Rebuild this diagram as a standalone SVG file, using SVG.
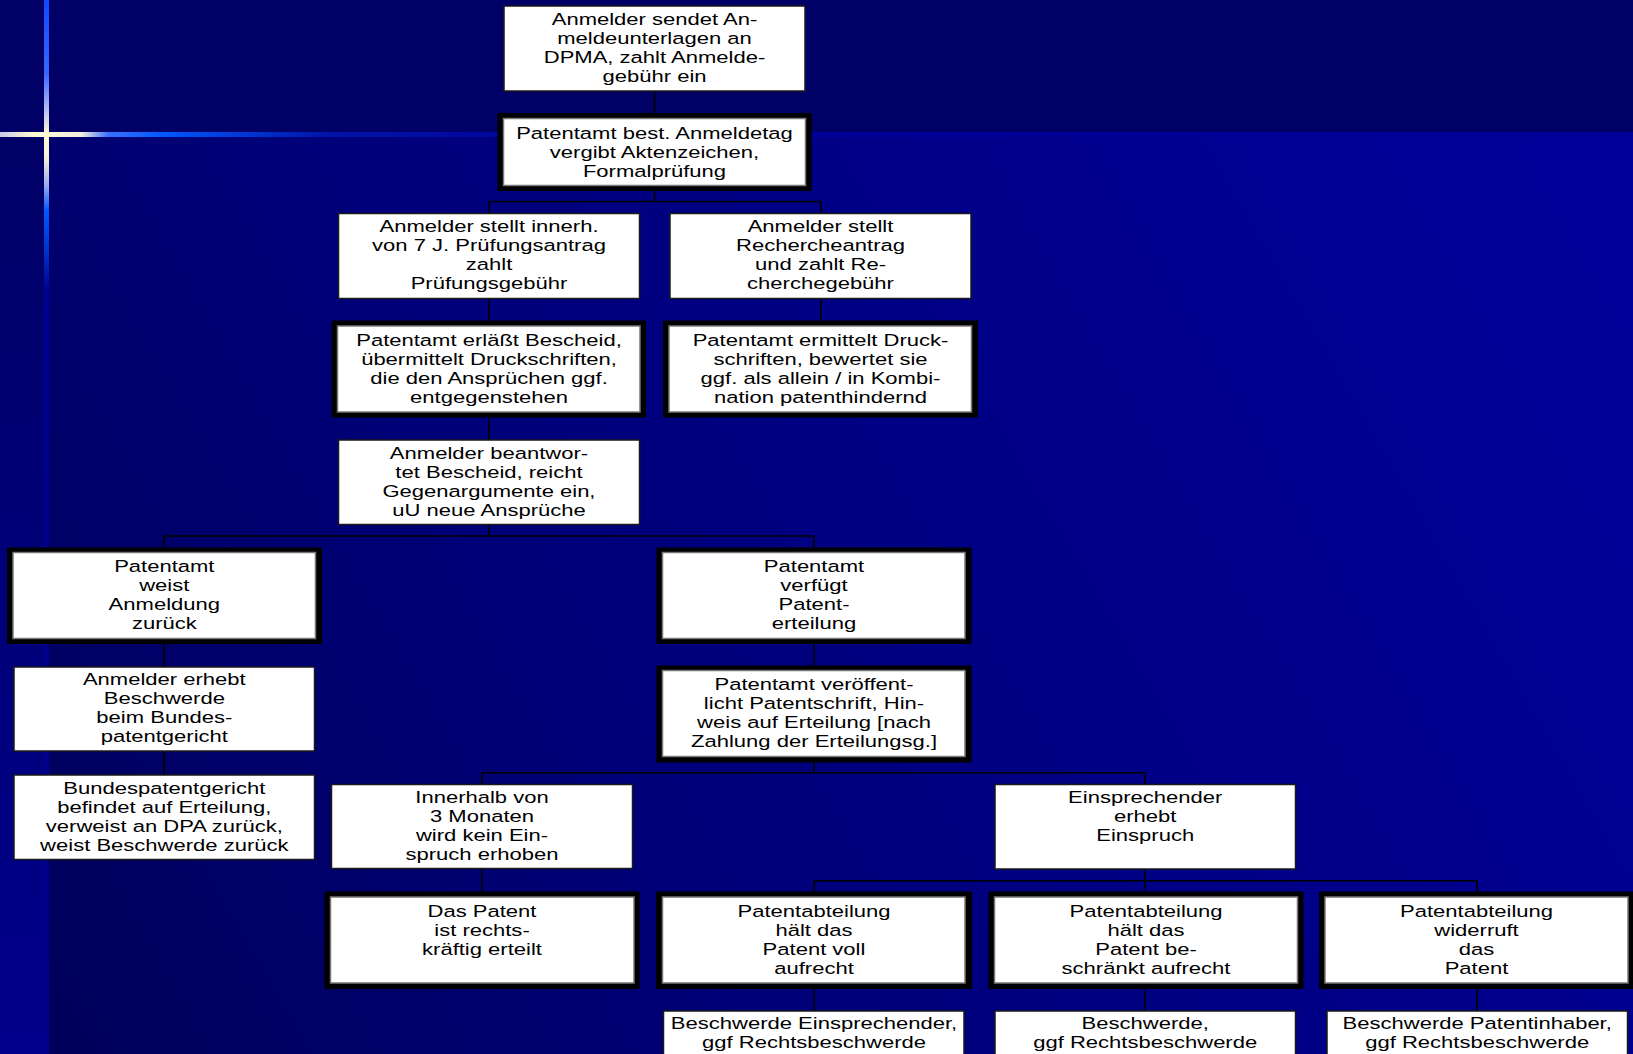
<svg xmlns="http://www.w3.org/2000/svg" width="1633" height="1054" viewBox="0 0 1633 1054">
<defs>
<linearGradient id="gMain" gradientUnits="userSpaceOnUse" x1="45" y1="1054" x2="1633" y2="134">
<stop offset="0" stop-color="#00005a"/>
<stop offset="0.35" stop-color="#000078"/>
<stop offset="1" stop-color="#00009c"/>
</linearGradient>
<linearGradient id="gStripe" gradientUnits="userSpaceOnUse" x1="0" y1="134" x2="0" y2="1054">
<stop offset="0" stop-color="#000066"/>
<stop offset="1" stop-color="#00008c"/>
</linearGradient>
<linearGradient id="gV" gradientUnits="userSpaceOnUse" x1="0" y1="0" x2="0" y2="1054">
<stop offset="0" stop-color="#1048ff"/>
<stop offset="0.07" stop-color="#3a66ff"/>
<stop offset="0.11" stop-color="#c8ccf0"/>
<stop offset="0.127" stop-color="#fffbd2"/>
<stop offset="0.15" stop-color="#f4f2dc"/>
<stop offset="0.175" stop-color="#a0acee"/>
<stop offset="0.2" stop-color="#0058ff"/>
<stop offset="0.235" stop-color="#0036d0"/>
<stop offset="0.275" stop-color="#000090"/>
<stop offset="1" stop-color="#00008a"/>
</linearGradient>
<linearGradient id="gH" gradientUnits="userSpaceOnUse" x1="0" y1="0" x2="1633" y2="0">
<stop offset="0" stop-color="#c8c8e8"/>
<stop offset="0.02" stop-color="#fffbd2"/>
<stop offset="0.05" stop-color="#f2f0dc"/>
<stop offset="0.066" stop-color="#3a70ff"/>
<stop offset="0.1" stop-color="#0058ff"/>
<stop offset="0.2" stop-color="#0014a8"/>
<stop offset="0.36" stop-color="#000098"/>
<stop offset="1" stop-color="#000094"/>
</linearGradient>
<style>
.thin{fill:#fff;stroke:#1a1a1a;stroke-width:1.5}
.ko{fill:#000}
.ki{fill:#fff;stroke:#777;stroke-width:1.5}
.c{fill:none;stroke:#000;stroke-width:1.6}
.t{font-family:"Liberation Sans",Arial,sans-serif;font-size:16.5px;fill:#000;text-anchor:middle}
</style>
</defs>
<g id="background">
<rect x="0" y="0" width="1633" height="1054" fill="url(#gMain)"/>
<rect x="0" y="134" width="45" height="920" fill="url(#gStripe)"/>
<rect x="0" y="0" width="1633" height="134" fill="#000066"/>
<rect x="0" y="132" width="1633" height="5" fill="url(#gH)"/>
<rect x="44" y="0" width="5" height="1054" fill="url(#gV)"/>
</g>
<g id="connectors">
<path class="c" d="M654.5 91V112.5M654.5 191V201.5M489 201.5H821M489 201.5V213.5M821 201.5V213.5"/>
<path class="c" d="M489 298.5V320.5M821 298.5V320.5M489 417.5V440"/>
<path class="c" d="M489 524.5V536M164 536H814M164 536V547M814 536V547"/>
<path class="c" d="M164 644V667M164 751V775M814 644V665"/>
<path class="c" d="M814 762V772.7M482 772.7H1145M482 772.7V784.5M1145 772.7V784.5"/>
<path class="c" d="M482 868.5V891.5M1145 869V880.7M814 880.7H1477M814 880.7V891.5M1145 880.7V891.5M1477 880.7V891.5"/>
<path class="c" d="M814 988.5V1011M1145 988.5V1011M1477 988.5V1011"/>
</g>
<g id="n1"><rect class="thin" x="504" y="6" width="301" height="85"/>
<text class="t" transform="translate(654.5 0) scale(1.335 1)"><tspan x="0" y="25.5">Anmelder sendet An-</tspan><tspan x="0" y="44.5">meldeunterlagen an</tspan><tspan x="0" y="63.5">DPMA, zahlt Anmelde-</tspan><tspan x="0" y="82.5">gebühr ein</tspan></text></g>
<g id="n2"><rect class="ko" x="497.5" y="113" width="314" height="78"/><rect class="ki" x="503.5" y="118.5" width="302" height="67"/>
<text class="t" transform="translate(654.5 0) scale(1.335 1)"><tspan x="0" y="139.5">Patentamt best. Anmeldetag</tspan><tspan x="0" y="158.5">vergibt Aktenzeichen,</tspan><tspan x="0" y="177.5">Formalprüfung</tspan></text></g>
<g id="n3"><rect class="thin" x="338.5" y="213.5" width="301" height="85"/>
<text class="t" transform="translate(489 0) scale(1.335 1)"><tspan x="0" y="232.5">Anmelder stellt innerh.</tspan><tspan x="0" y="251.5">von 7 J. Prüfungsantrag</tspan><tspan x="0" y="270.5">zahlt</tspan><tspan x="0" y="289.5">Prüfungsgebühr</tspan></text></g>
<g id="n4"><rect class="thin" x="670" y="213.5" width="301" height="85"/>
<text class="t" transform="translate(820.5 0) scale(1.335 1)"><tspan x="0" y="232.5">Anmelder stellt</tspan><tspan x="0" y="251.5">Rechercheantrag</tspan><tspan x="0" y="270.5">und zahlt Re-</tspan><tspan x="0" y="289.5">cherchegebühr</tspan></text></g>
<g id="n5"><rect class="ko" x="331.5" y="320.5" width="314.5" height="97"/><rect class="ki" x="337.5" y="326" width="302.5" height="86"/>
<text class="t" transform="translate(489 0) scale(1.335 1)"><tspan x="0" y="346.5">Patentamt erläßt Bescheid,</tspan><tspan x="0" y="365.5">übermittelt Druckschriften,</tspan><tspan x="0" y="384.5">die den Ansprüchen ggf.</tspan><tspan x="0" y="403.5">entgegenstehen</tspan></text></g>
<g id="n6"><rect class="ko" x="663" y="320.5" width="315" height="97"/><rect class="ki" x="669" y="326" width="302.5" height="86"/>
<text class="t" transform="translate(820.5 0) scale(1.335 1)"><tspan x="0" y="346.5">Patentamt ermittelt Druck-</tspan><tspan x="0" y="365.5">schriften, bewertet sie</tspan><tspan x="0" y="384.5">ggf. als allein / in Kombi-</tspan><tspan x="0" y="403.5">nation patenthindernd</tspan></text></g>
<g id="n7"><rect class="thin" x="338.5" y="440" width="301" height="84.5"/>
<text class="t" transform="translate(489 0) scale(1.335 1)"><tspan x="0" y="459.5">Anmelder beantwor-</tspan><tspan x="0" y="478.5">tet Bescheid, reicht</tspan><tspan x="0" y="497.5">Gegenargumente ein,</tspan><tspan x="0" y="516.5">uU neue Ansprüche</tspan></text></g>
<g id="n8"><rect class="ko" x="7" y="547.5" width="315" height="96.5"/><rect class="ki" x="13" y="552.5" width="302.5" height="86"/>
<text class="t" transform="translate(164.3 0) scale(1.335 1)"><tspan x="0" y="572.5">Patentamt</tspan><tspan x="0" y="591.5">weist</tspan><tspan x="0" y="610.5">Anmeldung</tspan><tspan x="0" y="629.5">zurück</tspan></text></g>
<g id="n9"><rect class="thin" x="14" y="667" width="300.5" height="84"/>
<text class="t" transform="translate(164.3 0) scale(1.335 1)"><tspan x="0" y="685.5">Anmelder erhebt</tspan><tspan x="0" y="704.5">Beschwerde</tspan><tspan x="0" y="723.5">beim Bundes-</tspan><tspan x="0" y="742.5">patentgericht</tspan></text></g>
<g id="n10"><rect class="thin" x="14" y="775" width="300.5" height="84.5"/>
<text class="t" transform="translate(164.3 0) scale(1.335 1)"><tspan x="0" y="794">Bundespatentgericht</tspan><tspan x="0" y="813">befindet auf Erteilung,</tspan><tspan x="0" y="832">verweist an DPA zurück,</tspan><tspan x="0" y="851">weist Beschwerde zurück</tspan></text></g>
<g id="n12"><rect class="ko" x="656.5" y="547.5" width="315" height="96.5"/><rect class="ki" x="662.5" y="552.5" width="302.5" height="86"/>
<text class="t" transform="translate(814 0) scale(1.335 1)"><tspan x="0" y="572.5">Patentamt</tspan><tspan x="0" y="591.5">verfügt</tspan><tspan x="0" y="610.5">Patent-</tspan><tspan x="0" y="629.5">erteilung</tspan></text></g>
<g id="n13"><rect class="ko" x="656.5" y="665.5" width="315" height="97"/><rect class="ki" x="662.5" y="670.5" width="302.5" height="86"/>
<text class="t" transform="translate(814 0) scale(1.335 1)"><tspan x="0" y="690">Patentamt veröffent-</tspan><tspan x="0" y="709">licht Patentschrift, Hin-</tspan><tspan x="0" y="728">weis auf Erteilung [nach</tspan><tspan x="0" y="747">Zahlung der Erteilungsg.]</tspan></text></g>
<g id="n11"><rect class="thin" x="331.5" y="784.5" width="301" height="84"/>
<text class="t" transform="translate(482 0) scale(1.335 1)"><tspan x="0" y="803.5">Innerhalb von</tspan><tspan x="0" y="822.5">3 Monaten</tspan><tspan x="0" y="841.5">wird kein Ein-</tspan><tspan x="0" y="860.5">spruch erhoben</tspan></text></g>
<g id="n14"><rect class="thin" x="995" y="784.5" width="300.5" height="84.5"/>
<text class="t" transform="translate(1145.2 0) scale(1.335 1)"><tspan x="0" y="803.5">Einsprechender</tspan><tspan x="0" y="822.5">erhebt</tspan><tspan x="0" y="841.5">Einspruch</tspan></text></g>
<g id="n15"><rect class="ko" x="324.5" y="891.5" width="315" height="97.5"/><rect class="ki" x="330.5" y="897" width="303.5" height="86"/>
<text class="t" transform="translate(482 0) scale(1.335 1)"><tspan x="0" y="917.5">Das Patent</tspan><tspan x="0" y="936.5">ist rechts-</tspan><tspan x="0" y="955.5">kräftig erteilt</tspan></text></g>
<g id="n16"><rect class="ko" x="656" y="891.5" width="316" height="97.5"/><rect class="ki" x="662.5" y="897" width="302.5" height="86"/>
<text class="t" transform="translate(814 0) scale(1.335 1)"><tspan x="0" y="917.5">Patentabteilung</tspan><tspan x="0" y="936.5">hält das</tspan><tspan x="0" y="955.5">Patent voll</tspan><tspan x="0" y="974.5">aufrecht</tspan></text></g>
<g id="n17"><rect class="ko" x="988.5" y="891.5" width="315" height="97.5"/><rect class="ki" x="994.5" y="897" width="303" height="86"/>
<text class="t" transform="translate(1146 0) scale(1.335 1)"><tspan x="0" y="917.5">Patentabteilung</tspan><tspan x="0" y="936.5">hält das</tspan><tspan x="0" y="955.5">Patent be-</tspan><tspan x="0" y="974.5">schränkt aufrecht</tspan></text></g>
<g id="n18"><rect class="ko" x="1319" y="891.5" width="320" height="97.5"/><rect class="ki" x="1325" y="897" width="303" height="86"/>
<text class="t" transform="translate(1476.5 0) scale(1.335 1)"><tspan x="0" y="917.5">Patentabteilung</tspan><tspan x="0" y="936.5">widerruft</tspan><tspan x="0" y="955.5">das</tspan><tspan x="0" y="974.5">Patent</tspan></text></g>
<g id="n19"><rect class="thin" x="663.5" y="1011" width="300.5" height="60"/>
<text class="t" transform="translate(814 0) scale(1.335 1)"><tspan x="0" y="1029.5">Beschwerde Einsprechender,</tspan><tspan x="0" y="1048.5">ggf Rechtsbeschwerde</tspan></text></g>
<g id="n20"><rect class="thin" x="995" y="1011" width="300.5" height="60"/>
<text class="t" transform="translate(1145.2 0) scale(1.335 1)"><tspan x="0" y="1029.5">Beschwerde,</tspan><tspan x="0" y="1048.5">ggf Rechtsbeschwerde</tspan></text></g>
<g id="n21"><rect class="thin" x="1327" y="1011" width="300.5" height="60"/>
<text class="t" transform="translate(1477.2 0) scale(1.335 1)"><tspan x="0" y="1029.5">Beschwerde Patentinhaber,</tspan><tspan x="0" y="1048.5">ggf Rechtsbeschwerde</tspan></text></g>
</svg>
